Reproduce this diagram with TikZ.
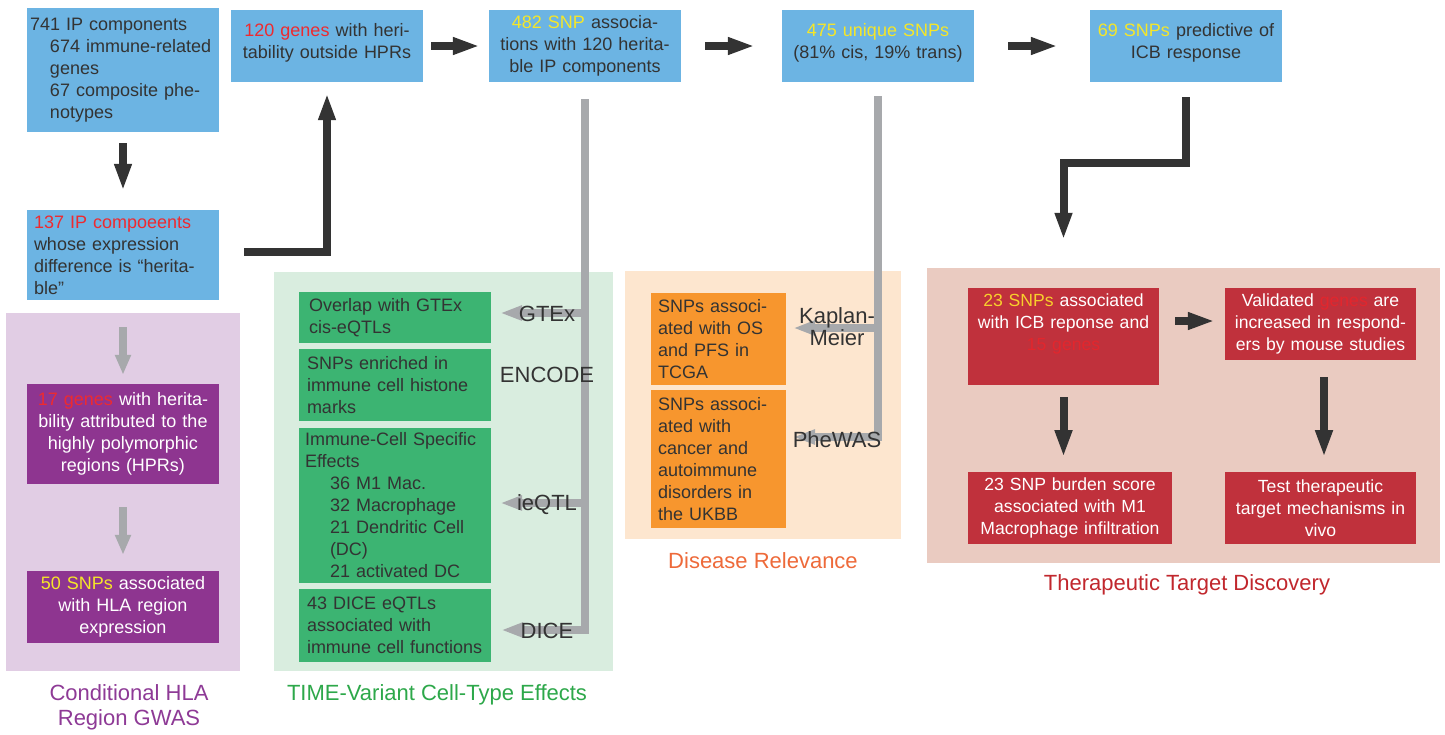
\documentclass[tikz,border=0pt]{standalone}
\usepackage{fontspec}
\setmainfont{Liberation Sans}
\usetikzlibrary{arrows.meta,calc}
\definecolor{bluebox}{HTML}{6CB4E3}
\definecolor{txt}{HTML}{333333}
\definecolor{hired}{HTML}{EE2A2F}
\definecolor{hiyel}{HTML}{F5E629}
\definecolor{higold}{HTML}{F8CF2C}
\definecolor{redred}{HTML}{E3262D}
\definecolor{darkarrow}{HTML}{333333}
\definecolor{grayarrow}{HTML}{A7A9AC}
\definecolor{purplebg}{HTML}{E1CDE4}
\definecolor{purplebox}{HTML}{8E3590}
\definecolor{purpletitle}{HTML}{8E3A96}
\definecolor{greenbg}{HTML}{D9EDDF}
\definecolor{greenbox}{HTML}{3CB472}
\definecolor{greentitle}{HTML}{2DA84A}
\definecolor{orangebg}{HTML}{FDE6CF}
\definecolor{orangebox}{HTML}{F7962E}
\definecolor{orangetitle}{HTML}{EE6A3A}
\definecolor{redbg}{HTML}{EACBC1}
\definecolor{redbox}{HTML}{C0313C}
\definecolor{redtitle}{HTML}{C1272D}
\newcommand{\hr}[1]{\textcolor{hired}{#1}}
\newcommand{\hy}[1]{\textcolor{hiyel}{#1}}
\newcommand{\ind}{\hspace*{20pt}}
\begin{document}
\begin{tikzpicture}[x=1pt,y=-1pt,
  box/.style={rectangle, inner ysep=0pt, font=\fontsize{18}{22}\selectfont},
  blue/.style={box, fill=bluebox, text=txt},
  purp/.style={box, fill=purplebox, text=white},
  grn/.style={box, fill=greenbox, text=txt},
  org/.style={box, fill=orangebox, text=txt},
  redb/.style={box, fill=redbox, text=white, font=\fontsize{17.6}{22}\selectfont},
  lbl/.style={font=\fontsize{22}{22}\selectfont, text=txt, anchor=base, inner sep=0pt},
  ttl/.style={font=\fontsize{22}{25}\selectfont, anchor=base, inner sep=0pt, align=center},
  darrow/.style={draw=darkarrow, line width=8pt, -{Triangle[length=27pt,width=16pt]}, line join=miter},
  garrow/.style={draw=grayarrow, line width=8pt, -{Triangle[length=20pt,width=15pt]}},
  sarrow/.style={draw=grayarrow, line width=8pt, -{Triangle[length=22pt,width=14pt]}, line join=miter},
]
\useasboundingbox (0,0) rectangle (1445,734);
\fill[white] (0,0) rectangle (1445,734);

% panels
\fill[purplebg] (6,313) rectangle (240,671);
\fill[greenbg] (274,272) rectangle (613,671);
\fill[orangebg] (625,271) rectangle (901,539);
\fill[redbg] (927,268) rectangle (1440,563);

% top row
\node[blue, align=left, text width=186pt, inner xsep=3pt, minimum height=124pt] (b741) at (123,70)
  {741 IP components\\\ind 674 immune-related\\\ind genes\\\ind 67 composite phe-\\\ind notypes};
\node[blue, align=left, text width=178pt, inner xsep=7pt, minimum height=90pt] (b137) at (123,255)
  {\hr{137 IP compoeents}\\whose expression\\difference is “herita-\\ble”};
\node[blue, align=center, text width=186pt, inner xsep=3pt, minimum height=72pt] (b120) at (327,46)
  {\hr{120 genes} with heri-\\tability outside HPRs\\[-18pt]\strut};
\node[blue, align=center, text width=186pt, inner xsep=3pt, minimum height=72pt] (b482) at (585,46)
  {\hy{482 SNP} associa-\\tions with 120 herita-\\ble IP components};
\node[blue, align=center, text width=186pt, inner xsep=3pt, minimum height=72pt] (b475) at (878,46)
  {\hy{475 unique SNPs}\\(81\% cis, 19\% trans)\\[-18pt]\strut};
\node[blue, align=center, text width=186pt, inner xsep=3pt, minimum height=72pt] (b69) at (1186,46)
  {\hy{69 SNPs} predictive of\\ICB response\\[-18pt]\strut};

% purple boxes
\node[purp, align=center, text width=188pt, inner xsep=2pt, minimum height=100pt] (p1) at (123,434)
  {\hr{17 genes} with herita-\\bility attributed to the\\highly polymorphic\\regions (HPRs)};
\node[purp, align=center, text width=188pt, inner xsep=2pt, minimum height=72pt] (p2) at (123,607)
  {\hy{50 SNPs} associated\\with HLA region\\expression};

% green boxes
\node[grn, align=left, text width=172pt, inner xsep=10pt, minimum height=51pt] (g1) at (395,317.5)
  {Overlap with GTEx\\cis-eQTLs};
\node[grn, align=left, text width=176pt, inner xsep=8pt, minimum height=72pt] (g2) at (395,385)
  {SNPs enriched in\\immune cell histone\\marks};
\node[grn, align=left, text width=180pt, inner xsep=6pt, minimum height=155pt] (g3) at (395,505.5)
  {Immune-Cell Specific\\Effects\\\hspace*{25pt}36 M1 Mac.\\\hspace*{25pt}32 Macrophage\\\hspace*{25pt}21 Dendritic Cell\\\hspace*{25pt}(DC)\\\hspace*{25pt}21 activated DC};
\node[grn, align=left, text width=176pt, inner xsep=8pt, minimum height=73pt] (g4) at (395,625.5)
  {43 DICE eQTLs\\associated with\\immune cell functions};

% orange boxes
\node[org, align=left, text width=121pt, inner xsep=7pt, minimum height=92pt] (o1) at (718.5,339)
  {SNPs associ-\\ated with OS\\and PFS in\\TCGA};
\node[org, align=left, text width=121pt, inner xsep=7pt, minimum height=138pt] (o2) at (718.5,459)
  {SNPs associ-\\ated with\\cancer and\\autoimmune\\disorders in\\the UKBB};

% red boxes
\node[redb, align=center, text width=187pt, inner xsep=2pt, minimum height=97pt] (r1) at (1063.5,336.5)
  {\textcolor{higold}{23 SNPs} associated\\with ICB reponse and\\\textcolor{redred}{15 genes}\\\strut};
\node[redb, align=center, text width=187pt, inner xsep=2pt, minimum height=72pt] (r2) at (1320.5,324)
  {Validated \textcolor{redred}{genes} are\\increased in respond-\\ers by mouse studies};
\node[redb, align=center, text width=200pt, inner xsep=2pt, minimum height=72pt] (r3) at (1070,508)
  {23 SNP burden score\\associated with M1\\Macrophage infiltration};
\node[redb, align=center, text width=187pt, inner xsep=2pt, minimum height=72pt] (r4) at (1320.5,508)
  {Test therapeutic\\target mechanisms in\\vivo};

% dark arrows
\draw[darrow] ($(b741.south)+(0,11)$) -- ($(b137.north)+(0,-19)$);
\draw[darrow] ($(b137.east)+(25,-3)$) -| ($(b120.south)+(0,11)$);
\draw[darrow] ($(b120.east)+(8,0)$) -- ($(b482.west)+(-9,0)$);
\draw[darrow] ($(b482.east)+(24,0)$) -- ($(b475.west)+(-27,0)$);
\draw[darrow] ($(b475.east)+(34,0)$) -- ($(b69.west)+(-32,0)$);
\draw[darrow] ($(b69.south)+(0,15)$) -- ++(0,66) -| ($(r1.north)+(0,-48)$);
\draw[darrow] ($(r1.east)+(16,-15.5)$) -- ($(r2.west)+(-10,-3)$);
\draw[darrow] ($(r1.south)+(0,12)$) -- ($(r1.south)+(0,72)$);
\draw[darrow] ($(r2.south)+(3.5,17)$) -- ($(r2.south)+(3.5,97)$);

% gray arrows in purple panel
\draw[garrow] ($(b137.south)+(0,27)$) -- ($(p1.north)+(0,-9)$);
\draw[garrow] ($(p1.south)+(0,23)$) -- ($(p2.north)+(0,-16)$);

% green spine
\coordinate (gs) at ($(b482.south)+(0,17)$);
\coordinate (g1t) at ($(g1.east)+(9,-4.5)$);
\coordinate (g3t) at ($(g3.east)+(9,-2.5)$);
\coordinate (g4t) at ($(g4.east)+(10,4.5)$);
\draw[sarrow] (gs) |- (g4t);
\draw[sarrow] (gs |- g1t) -- (g1t);
\draw[sarrow] (gs |- g3t) -- (g3t);

% orange spine
\coordinate (os) at ($(b475.south)+(0,14)$);
\coordinate (o1t) at ($(o1.east)+(7,-11)$);
\coordinate (o2t) at ($(o2.east)+(7,-22)$);
\draw[sarrow] (os) |- (o2t);
\draw[sarrow] (os |- o1t) -- (o1t);

% labels
\node[lbl] (lgtex) at (547,321) {GTEx};
\node[lbl] (lenc) at (547,382) {ENCODE};
\node[lbl] (lieq) at (547,510) {ieQTL};
\node[lbl] (ldice) at (547,638) {DICE};
\node[lbl, align=center] (lkm) at (837,345) {Kaplan-\\Meier};
\node[lbl] (lphe) at (837,447) {PheWAS};

% titles
\node[ttl, text=purpletitle] (tp) at (129,725) {Conditional HLA\\Region GWAS};
\node[ttl, text=greentitle] (tg) at (437,700) {TIME-Variant Cell-Type Effects};
\node[ttl, text=orangetitle] (to) at (763,568) {Disease Relevance};
\node[ttl, text=redtitle] (tr) at (1187,590) {Therapeutic Target Discovery};
\end{tikzpicture}
\end{document}
